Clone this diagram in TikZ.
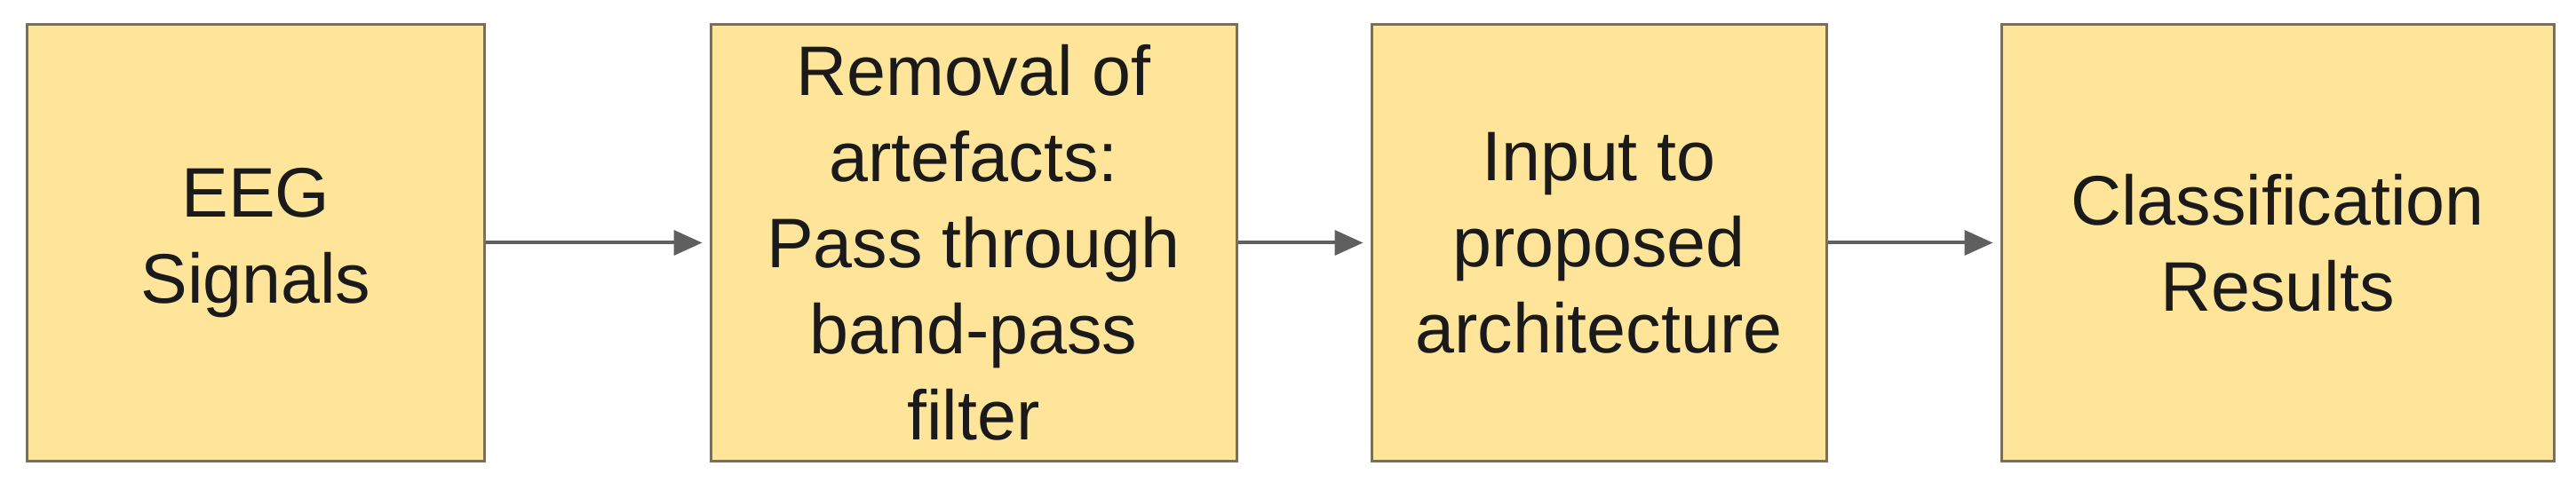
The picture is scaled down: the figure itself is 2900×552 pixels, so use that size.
\documentclass[tikz,border=0pt]{standalone}
\usepackage{fontspec}
\setmainfont{Liberation Sans}
\usetikzlibrary{arrows.meta}
\definecolor{boxfill}{HTML}{FFE599}
\definecolor{boxline}{HTML}{7A7058}
\definecolor{arrowgray}{HTML}{5F5F5F}
\definecolor{textcol}{HTML}{1A1A1A}
\begin{document}
\begin{tikzpicture}[x=1bp,y=-1bp,
  stagebox/.style={draw=boxline, fill=boxfill, line width=3bp, rectangle,
    minimum height=491bp, inner sep=0pt, align=center, text=textcol,
    font=\fontsize{79bp}{97bp}\selectfont},
  flowarrow/.style={draw=arrowgray, line width=4bp,
    -{Triangle[length=32bp,width=28bp]}, shorten >=8bp}]
\useasboundingbox (0,0) rectangle (2900,552);
\node[stagebox, minimum width=514bp] (b1) at (288,273.5) {EEG\\Signals};
\node[stagebox, minimum width=592bp] (b2) at (1096,273.5) {Removal of\\artefacts:\\Pass through\\band-pass\\filter};
\node[stagebox, minimum width=512bp] (b3) at (1800,273.5) {Input to\\proposed\\architecture};
\node[stagebox, minimum width=622bp] (b4) at (2564,273.5) {Classification\\Results};
\draw[flowarrow] (b1.east) -- (b2.west);
\draw[flowarrow] (b2.east) -- (b3.west);
\draw[flowarrow] (b3.east) -- (b4.west);
\end{tikzpicture}
\end{document}
